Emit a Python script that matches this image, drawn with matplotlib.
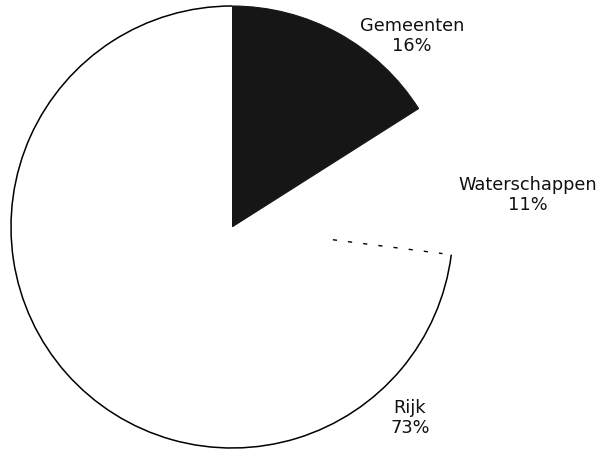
import numpy as np
import matplotlib
matplotlib.use("Agg")
import matplotlib.pyplot as plt
from matplotlib.patches import Arc

# aandeel per overheidslaag
categories = ["Gemeenten", "Waterschappen", "Rijk"]
shares = [16, 11, 73]
labels = ["Gemeenten\n16%", "Waterschappen\n11%", "Rijk\n73%"]

# label positions (data units, pie radius = 1)
label_pos = [(0.814, 0.864), (1.339, 0.145), (0.805, -0.864)]

W, H = 598, 451
cx, cy, r = 232, 451 - 227, 221

fig = plt.figure(figsize=(W / 100, H / 100), dpi=100)
ax = fig.add_axes([0, 0, 1, 1])

wedges, _ = ax.pie(shares, startangle=90, counterclock=False, radius=1,
                   explode=[0, 0.03, 0],
                   colors=["#161616", "white", "white"],
                   wedgeprops=dict(linewidth=0))
wedges[0].set_edgecolor("#161616")
wedges[0].set_linewidth(0.8)

# outline of Rijk: solid arc, faint broken radial edge
rijk = wedges[2]
t1, t2 = sorted([rijk.theta1, rijk.theta2])
ax.add_patch(Arc((0, 0), 2, 2, theta1=t1, theta2=t2, color="black", lw=1.1))
ang = np.deg2rad(t2)
ax.plot([0.46 * np.cos(ang), 0.96 * np.cos(ang)],
        [0.46 * np.sin(ang), 0.96 * np.sin(ang)],
        color="black", lw=1.0, ls=(0, (3, 8)))

for lab, (x, y) in zip(labels, label_pos):
    ax.text(x, y, lab, ha="center", va="center", fontsize=12.8,
            family="DejaVu Sans", linespacing=1.1, color="#111111")

ax.set_xlim(-cx / r, (W - cx) / r)
ax.set_ylim(-cy / r, (H - cy) / r)
ax.set_aspect("auto")
ax.axis("off")

fig.savefig("out.png", dpi=100)
